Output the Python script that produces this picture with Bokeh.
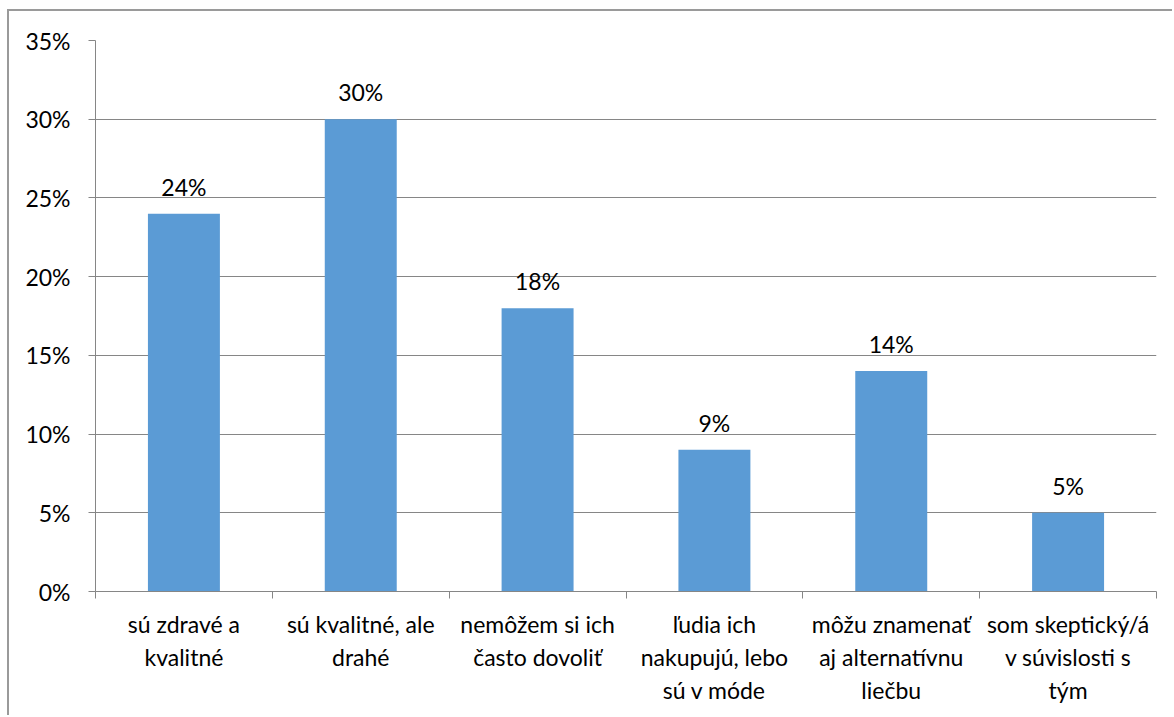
from bokeh.plotting import figure
from bokeh.models import (ColumnDataSource, Range1d, FixedTicker, NumeralTickFormatter,
                          LabelSet)
from bokeh.core.properties import value
from bokeh.embed import file_html
from bokeh.resources import INLINE

categories = ["sú zdravé a\nkvalitné", "sú kvalitné, ale\ndrahé",
              "nemôžem si ich\nčasto dovoliť", "ľudia ich\nnakupujú, lebo\nsú v móde",
              "môžu znamenať\naj alternatívnu\nliečbu", "som skeptický/á\nv súvislosti s\ntým"]
values = [0.24, 0.30, 0.18, 0.09, 0.14, 0.05]
value_labels = ["24%", "30%", "18%", "9%", "14%", "5%"]
y_ticks = [0, 0.05, 0.10, 0.15, 0.20, 0.25, 0.30, 0.35]

FONT = "Lato"
FS = "23px"
OX, OY = 9, 11  # canvas offset inside the chart border

x_pos = [i + 0.5 for i in range(len(categories))]
src = ColumnDataSource(dict(x=x_pos, top=values, lab=value_labels))

p = figure(width=1174 - OX, height=717 - OY, output_backend="svg", toolbar_location=None,
           x_range=Range1d(0, len(categories)), y_range=Range1d(0, 0.35),
           min_border_left=95 - OX, min_border_right=18, min_border_top=40 - OY,
           min_border_bottom=126)
p.margin = (OY - 2, 0, 0, OX - 2)
p.styles = {"border-left": "2px solid #9a9a9a", "border-top": "2px solid #9a9a9a"}
p.outline_line_color = None
p.background_fill_color = "white"
p.border_fill_color = "white"

p.vbar(x="x", top="top", width=0.407, bottom=0, source=src,
       fill_color="#5B9BD5", line_color=None)

p.add_layout(LabelSet(x="x", y="top", text="lab", source=src, text_align="center",
                      text_baseline="middle", y_offset=27, text_font=value(FONT),
                      text_font_size=value(FS), text_color="black"))

# Axes
xa = p.xaxis[0]
xa.ticker = FixedTicker(ticks=x_pos, minor_ticks=list(range(len(categories) + 1)))
xa.major_label_overrides = {x: c for x, c in zip(x_pos, categories)}
xa.major_tick_out = 0
xa.major_tick_in = 0
xa.minor_tick_out = 7
xa.minor_tick_in = 0
xa.minor_tick_line_color = "#868686"
xa.axis_line_color = "#868686"
xa.major_label_text_font = FONT
xa.major_label_text_font_size = FS
xa.major_label_text_color = "black"
xa.major_label_text_line_height = 1.18
xa.major_label_standoff = 11

ya = p.yaxis[0]
ya.ticker = FixedTicker(ticks=y_ticks)
ya.formatter = NumeralTickFormatter(format="0%")
ya.major_tick_out = 7
ya.major_tick_in = 0
ya.minor_tick_line_color = None
ya.major_tick_line_color = "#868686"
ya.axis_line_color = "#868686"
ya.major_label_text_font = FONT
ya.major_label_text_font_size = FS
ya.major_label_text_color = "black"
ya.major_label_standoff = 18

p.xgrid.grid_line_color = None
p.ygrid.grid_line_color = "#868686"
p.ygrid.ticker = FixedTicker(ticks=y_ticks)

open("out.html", "w").write(file_html(p, INLINE))
